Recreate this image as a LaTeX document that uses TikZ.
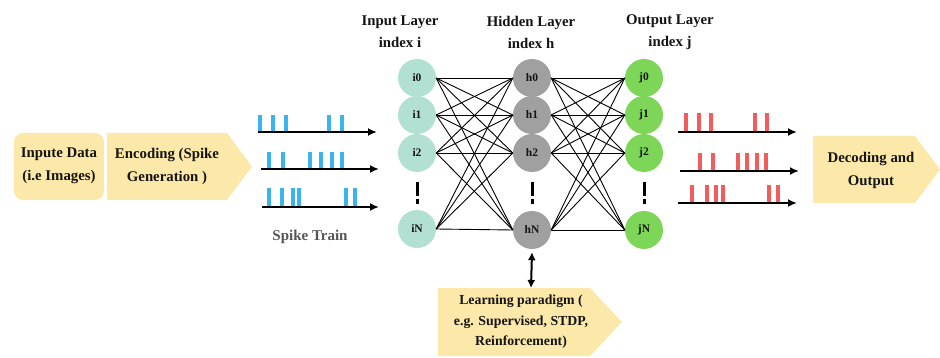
\documentclass[tikz,border=0pt]{standalone}
\usepackage{fontspec}
\setmainfont{Liberation Serif}
\usetikzlibrary{arrows.meta}
\definecolor{boxfill}{RGB}{252,232,168}
\definecolor{inc}{RGB}{178,224,210}
\definecolor{hidc}{RGB}{160,160,160}
\definecolor{outc}{RGB}{126,214,88}
\definecolor{spblue}{RGB}{59,179,240}
\definecolor{spred}{RGB}{242,92,92}
\definecolor{txt}{RGB}{20,20,20}
\tikzset{
  neuron/.style={circle,minimum size=38pt,inner sep=0pt,font=\fontsize{11.5}{12}\selectfont\bfseries,text=txt},
  inl/.style={neuron,fill=inc},
  hidl/.style={neuron,fill=hidc},
  outl/.style={neuron,fill=outc},
  hdr/.style={align=center,font=\fontsize{14.8}{22}\selectfont\bfseries,text=txt},
  boxtxt/.style={align=center,font=\fontsize{14.8}{23}\selectfont\bfseries,text=txt},
  learntxt/.style={align=center,font=\fontsize{13.8}{20.5}\selectfont\bfseries,text=txt},
  conn/.style={draw=black,line width=0.9pt},
  train/.style={line width=2pt,-{Latex[length=9pt,width=8pt]}},
  dotsv/.style={line width=3pt,dash pattern=on 14pt off 3pt on 5pt off 20pt},
}
\begin{document}
\begin{tikzpicture}[x=1pt,y=-1pt]
\useasboundingbox (0,0) rectangle (940,358);
% left boxes
\fill[boxfill,rounded corners=9pt] (14,133) rectangle (104,200);
\node[boxtxt] (inp) at (59,166) {Inpute Data\\(i.e Images)};
\fill[boxfill] (107,133) -- (227,133) -- (252,166.5) -- (227,200) -- (107,200) -- cycle;
\node[boxtxt] (enc) at (167,166) {Encoding (Spike\\Generation )};
% decoding box
\fill[boxfill] (813,136) -- (915,136) -- (940,169.5) -- (915,203) -- (813,203) -- cycle;
\node[boxtxt] (dec) at (871,170) {Decoding and\\Output};
% learning box
\fill[boxfill] (438,288) -- (590,288) -- (622,322) -- (590,356) -- (438,356) -- cycle;
\node[learntxt] (learn) at (521,322) {Learning paradigm (\\e.g. Supervised, STDP,\\Reinforcement)};
\coordinate (ltop) at (531,288);
% headers
\node[hdr] (hin) at (400,32) {Input Layer\\index i};
\node[hdr] (hhid) at (531,32) {Hidden Layer\\index h};
\node[hdr] (hout) at (670,32) {Output Layer\\index j};
% neurons
\node[inl] (i0) at (417,78) {i0};
\node[inl] (i1) at (417,115) {i1};
\node[inl] (i2) at (417,153) {i2};
\node[inl] (iN) at (417,229) {iN};
\node[hidl] (h0) at (532,78) {h0};
\node[hidl] (h1) at (532,115) {h1};
\node[hidl] (h2) at (532,153) {h2};
\node[hidl] (hN) at (532,230) {hN};
\node[outl] (j0) at (644,78) {j0};
\node[outl] (j1) at (644,115) {j1};
\node[outl] (j2) at (644,153) {j2};
\node[outl] (jN) at (644,230) {jN};
% connections
\foreach \a in {i0,i1,i2,iN}{\foreach \b in {h0,h1,h2,hN}{\draw[conn] (\a.east) -- (\b.west);}}
\foreach \a in {h0,h1,h2,hN}{\foreach \b in {j0,j1,j2,jN}{\draw[conn] (\a.east) -- (\b.west);}}
% vertical dots
\draw[dotsv] (417,182) -- (417,205);
\draw[dotsv] (532,182) -- (532,205);
\draw[dotsv] (644,182) -- (644,205);
% learning arrow
\draw[line width=2pt,{Latex[length=8pt,width=8pt]}-{Latex[length=8pt,width=8pt]}] ([yshift=-3pt]hN.south) -- (ltop);
% input spike trains
\foreach \x in {260,273,286,329,342}{\fill[spblue] (\x-2,115) rectangle (\x+2,132);}
\foreach \x in {269,283,310,321,332,342}{\fill[spblue] (\x-2,152) rectangle (\x+2,169);}
\foreach \x in {269,282,293,299,346,355}{\fill[spblue] (\x-2,188) rectangle (\x+2,207);}
\draw[train] (258,132) -- (377,132);
\draw[train] (261,169) -- (379,169);
\draw[train] (262,207) -- (379,207);
\node[font=\fontsize{15}{18}\selectfont\bfseries,text={rgb,255:red,85;green,85;blue,85}] (st) at (310,237) {Spike Train};
% output spike trains
\foreach \x in {686,699,711,755,767}{\fill[spred] (\x-2,113) rectangle (\x+2,132);}
\foreach \x in {700,713,738,747,757,766}{\fill[spred] (\x-2,153) rectangle (\x+2,171);}
\foreach \x in {692,707,716,723,769,778}{\fill[spred] (\x-2,185) rectangle (\x+2,203);}
\draw[train] (678,132) -- (797,132);
\draw[train] (680,171) -- (799,171);
\draw[train] (678,203) -- (797,203);
\end{tikzpicture}
\end{document}
